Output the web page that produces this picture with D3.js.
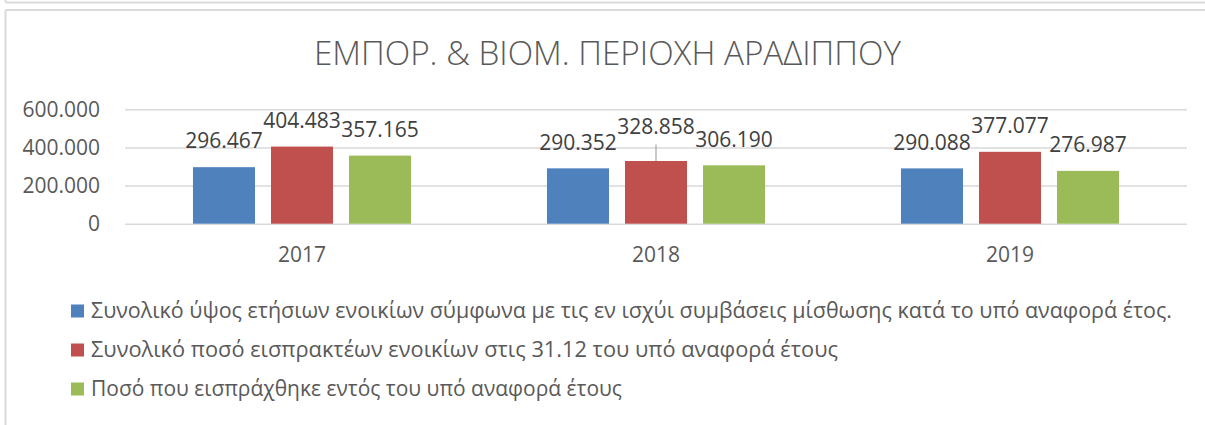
<!DOCTYPE html>
<html>
<head>
<meta charset="utf-8">
<script src="https://cdn.jsdelivr.net/npm/d3@7"></script>
<style>
  html, body { margin: 0; padding: 0; background: #fff; }
  svg { display: block; }
  text { font-family: "Open Sans", "Noto Sans", sans-serif; }
</style>
</head>
<body>
<svg id="chart" width="1205" height="425"></svg>
<script>
// ---- data ----
const title = "ΕΜΠΟΡ. & ΒΙΟΜ. ΠΕΡΙΟΧΗ ΑΡΑΔΙΠΠΟΥ";
const categories = ["2017", "2018", "2019"];
const seriesNames = [
  "Συνολικό ύψος ετήσιων ενοικίων σύμφωνα με τις εν ισχύι συμβάσεις μίσθωσης κατά το υπό αναφορά έτος.",
  "Συνολικό ποσό εισπρακτέων ενοικίων στις 31.12 του υπό αναφορά έτους",
  "Ποσό που εισπράχθηκε εντός του υπό αναφορά έτους"
];
const seriesA = [296467, 290352, 290088];
const seriesB = [404483, 328858, 377077];
const seriesC = [357165, 306190, 276987];
const yTicks = [0, 200000, 400000, 600000];
const colors = ["#4f81bd", "#c0504d", "#9bbb59"];

// ---- layout ----
const svg = d3.select("#chart");
const W = 1205, H = 425;
const plot = { left: 125, right: 1187, top: 109.3, bottom: 223.7 };
const values = [seriesA, seriesB, seriesC];
const gl = d3.formatLocale({ decimal: ",", thousands: ".", grouping: [3], currency: ["", "€"] });
const fmt = gl.format(",d");

// frame borders
const frame = svg.append("g").attr("stroke", "#d9d9d9").attr("stroke-width", 2).attr("fill", "none");
frame.append("line").attr("x1", 5.5).attr("x2", W).attr("y1", 2.5).attr("y2", 2.5);
frame.append("line").attr("x1", 5.5).attr("x2", 5.5).attr("y1", 0).attr("y2", 2.5);
frame.append("line").attr("x1", 5.5).attr("x2", W).attr("y1", 10).attr("y2", 10);
frame.append("line").attr("x1", 5.5).attr("x2", 5.5).attr("y1", 10).attr("y2", H);

// title
svg.append("text")
  .attr("x", 607.5).attr("y", 65)
  .attr("text-anchor", "middle")
  .attr("font-size", 33).attr("font-weight", 350)
  .attr("fill", "#595959")
  .attr("textLength", 587).attr("lengthAdjust", "spacingAndGlyphs")
  .text(title);

// scales
const y = d3.scaleLinear().domain([0, 600000]).range([plot.bottom, plot.top]);
const x0 = d3.scaleBand().domain(categories).range([plot.left, plot.right]).paddingInner(0).paddingOuter(0);
const bw = x0.bandwidth();
const groupW = bw * 0.616;
const x1 = d3.scaleBand().domain([0, 1, 2])
  .range([(bw - groupW) / 2, (bw + groupW) / 2])
  .paddingInner(0.205).paddingOuter(0);

// gridlines
const yAxis = d3.axisLeft(y).tickValues(yTicks).tickSize(-(plot.right - plot.left)).tickFormat(fmt).tickPadding(25);
const ga = svg.append("g").attr("transform", `translate(${plot.left},0)`).call(yAxis);
ga.select(".domain").remove();
ga.selectAll(".tick line").attr("stroke", "#d9d9d9").attr("stroke-width", 1.5);
ga.selectAll(".tick text")
  .attr("font-size", 21).attr("fill", "#595959")
  .attr("font-family", "'Open Sans', 'Noto Sans', sans-serif")
  .attr("dy", "0.34em");

// x axis labels
const xAxis = d3.axisBottom(x0).tickSize(0).tickPadding(0);
const gx = svg.append("g").attr("transform", `translate(0,${plot.bottom})`).call(xAxis);
gx.select(".domain").remove();
gx.selectAll(".tick text")
  .attr("font-size", 21).attr("fill", "#595959")
  .attr("font-family", "'Open Sans', 'Noto Sans', sans-serif")
  .attr("dy", 0).attr("y", 38);

// bars
const rows = [];
categories.forEach((c, ci) => values.forEach((vals, si) => rows.push({ c, ci, si, v: vals[ci] })));

svg.append("g").selectAll("rect").data(rows).enter().append("rect")
  .attr("x", d => x0(d.c) + x1(d.si))
  .attr("width", x1.bandwidth())
  .attr("y", d => y(d.v))
  .attr("height", d => y(0) - y(d.v))
  .attr("fill", d => colors[d.si]);

// data labels (Excel moved the 2018 middle label up with a leader line)
const lifted = d => d.c === "2018" && d.si === 1;
const lbl = svg.append("g");
lbl.selectAll("line").data(rows.filter(lifted)).enter().append("line")
  .attr("x1", d => x0(d.c) + x1(d.si) + x1.bandwidth() / 2)
  .attr("x2", d => x0(d.c) + x1(d.si) + x1.bandwidth() / 2)
  .attr("y1", d => y(d.v) - 16.5)
  .attr("y2", d => y(d.v))
  .attr("stroke", "#a6a6a6").attr("stroke-width", 1.2);
lbl.selectAll("text").data(rows).enter().append("text")
  .attr("x", d => x0(d.c) + x1(d.si) + x1.bandwidth() / 2)
  .attr("y", d => y(d.v) - (lifted(d) ? 26.5 : 18.8))
  .attr("text-anchor", "middle")
  .attr("font-size", 21).attr("fill", "#404040")
  .text(d => fmt(d.v));

// legend
const legendY = [318, 357, 396];
const legendW = [1081, 747, 531];
const lg = svg.append("g");
seriesNames.forEach((name, i) => {
  lg.append("rect").attr("x", 71).attr("y", legendY[i] - 13.5).attr("width", 13).attr("height", 13).attr("fill", colors[i]);
  lg.append("text").attr("x", 91).attr("y", legendY[i])
    .attr("font-size", 21).attr("fill", "#595959")
    .attr("textLength", legendW[i]).attr("lengthAdjust", "spacingAndGlyphs")
    .text(name);
});
</script>
</body>
</html>
